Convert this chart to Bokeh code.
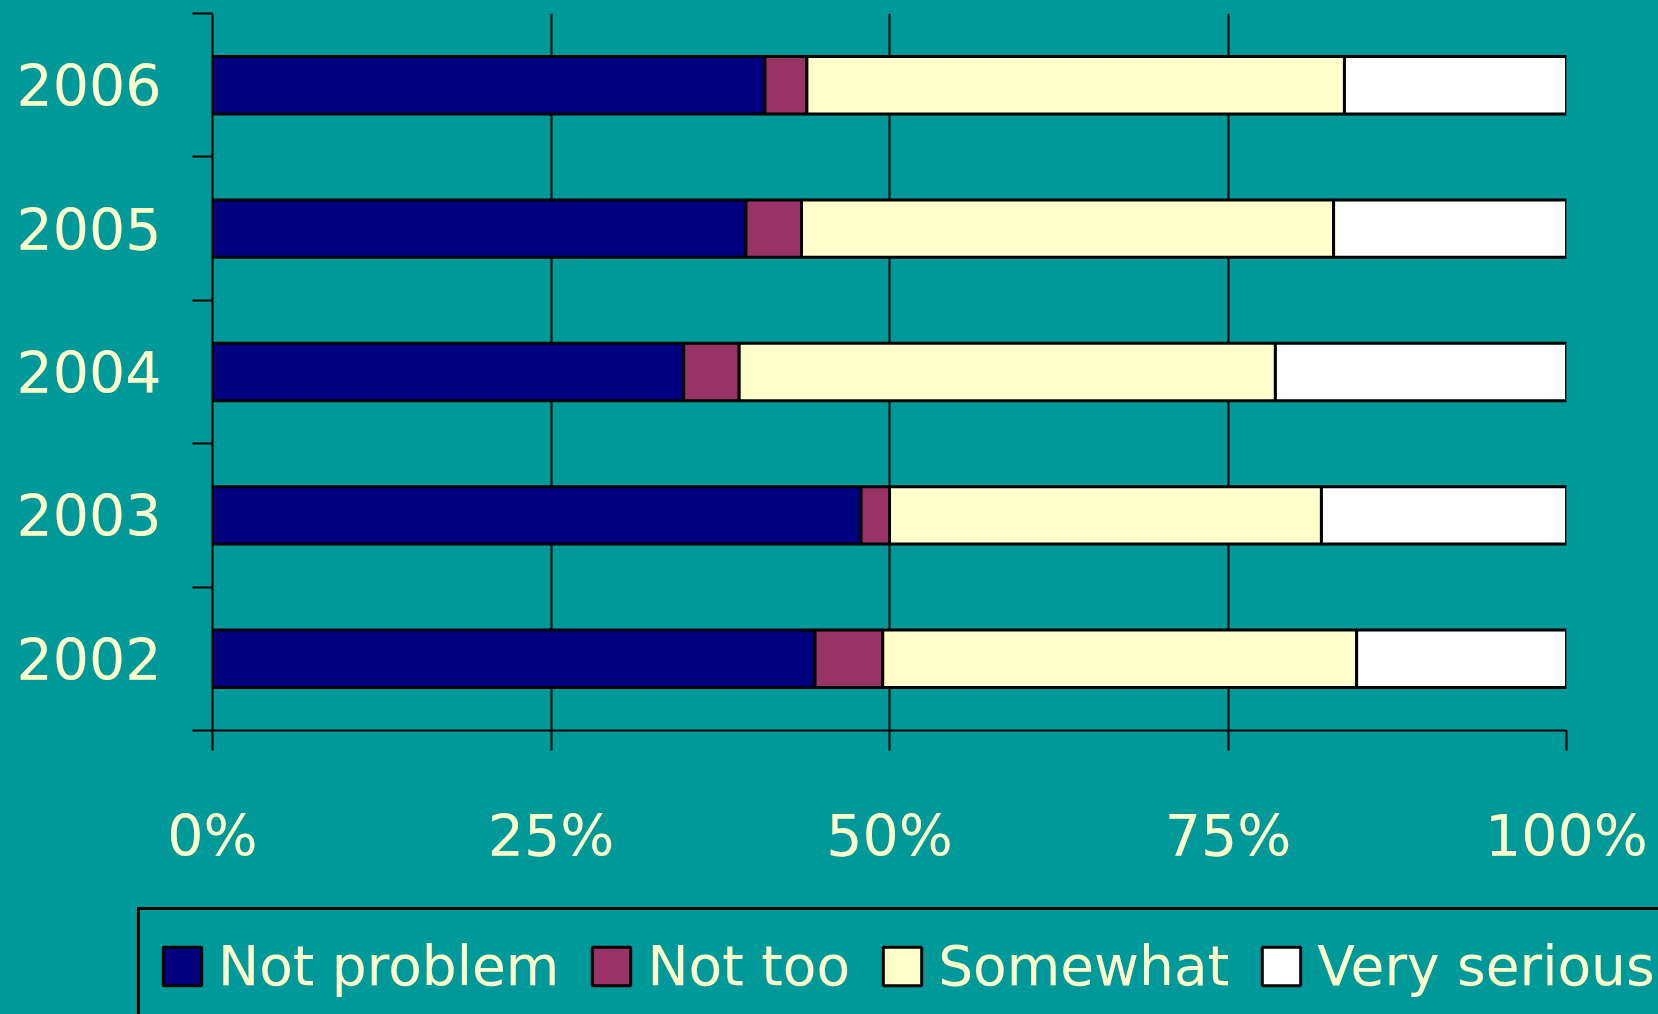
from bokeh.plotting import figure
from bokeh.models import (Range1d, FixedTicker, ColumnDataSource, Legend, LegendItem)
from bokeh.embed import file_html
from bokeh.resources import INLINE

years = ["2002", "2003", "2004", "2005", "2006"]
not_problem = [44.5, 47.9, 34.8, 39.4, 40.8]
not_too = [5.0, 2.1, 4.1, 4.1, 3.1]
somewhat = [35.0, 31.9, 39.6, 39.3, 39.7]
very_serious = [15.5, 18.1, 21.5, 17.2, 16.4]
series_names = ["Not problem", "Not too", "Somewhat", "Very serious"]
series_colors = ["#000080", "#993366", "#FFFFCC", "#FFFFFF"]
x_ticks = [0, 25, 50, 75, 100]
x_labels = ["0%", "25%", "50%", "75%", "100%"]

BG = "#009999"
TXT = "#FFFFCC"
FONT = "DejaVu Sans"

ypos = [i + 0.5 for i in range(len(years))]
keys = ["np", "nt", "sw", "vs"]
source = ColumnDataSource(dict(y=ypos, np=not_problem, nt=not_too,
                               sw=somewhat, vs=very_serious))

# ---------------- main chart ----------------
p = figure(width=1658, height=900, output_backend="svg", toolbar_location=None,
           x_range=Range1d(0, 100), y_range=Range1d(0, len(years)))
p.min_border_left = 212
p.min_border_right = 92
p.min_border_top = 13
p.min_border_bottom = 170
p.background_fill_color = BG
p.border_fill_color = BG
p.outline_line_color = None

renderers = p.hbar_stack(keys, y="y", height=0.4, source=source,
                         color=series_colors, line_color="black", line_width=3)

xt = FixedTicker(ticks=x_ticks)
p.xaxis.ticker = xt
p.xaxis.major_label_overrides = {t: l for t, l in zip(x_ticks, x_labels)}
p.xaxis.major_tick_out = 20
p.xaxis.major_tick_in = 0
p.xaxis.minor_tick_out = 0
p.xaxis.minor_tick_in = 0
p.xaxis.major_tick_line_width = 2
p.xaxis.major_tick_line_color = "black"
p.xaxis.axis_line_width = 2
p.xaxis.axis_line_color = "black"
p.xaxis.major_label_text_font = FONT
p.xaxis.major_label_text_font_size = "57px"
p.xaxis.major_label_text_color = TXT
p.xaxis.major_label_standoff = 52

yt = FixedTicker(ticks=ypos, minor_ticks=list(range(len(years) + 1)))
p.yaxis.ticker = yt
p.yaxis.major_label_overrides = {y: l for y, l in zip(ypos, years)}
p.yaxis.major_tick_out = 0
p.yaxis.major_tick_in = 0
p.yaxis.minor_tick_out = 20
p.yaxis.minor_tick_in = 0
p.yaxis.minor_tick_line_width = 2
p.yaxis.minor_tick_line_color = "black"
p.yaxis.axis_line_width = 2
p.yaxis.axis_line_color = "black"
p.yaxis.major_label_text_font = FONT
p.yaxis.major_label_text_font_size = "57px"
p.yaxis.major_label_text_color = TXT
p.yaxis.major_label_standoff = 31

p.xgrid.ticker = xt
p.xgrid.grid_line_color = "black"
p.xgrid.grid_line_width = 2
p.ygrid.visible = False

# ---------------- legend strip ----------------
pl = figure(width=1658, height=114, output_backend="svg", toolbar_location=None,
            x_range=Range1d(0, 100), y_range=Range1d(0, len(years)))
pl.min_border = 0
pl.min_border_left = 0
pl.min_border_right = 0
pl.min_border_top = 0
pl.min_border_bottom = 0
pl.axis.visible = False
pl.grid.visible = False
pl.background_fill_color = BG
pl.border_fill_color = BG
pl.outline_line_color = None

swatches = pl.hbar_stack(keys, y="y", height=0.4, source=source,
                         color=series_colors, line_color="black", line_width=3,
                         visible=False)

legend = Legend(items=[LegendItem(label=n, renderers=[r]) for n, r in zip(series_names, swatches)],
                orientation="horizontal", location=(137, -11))
legend.label_text_font = FONT
legend.label_text_font_size = "55px"
legend.label_text_color = TXT
legend.label_standoff = 12
legend.label_height = 76
legend.glyph_width = 48
legend.glyph_height = 48
legend.spacing = 28
legend.padding = 18
legend.margin = 0
legend.border_line_color = "black"
legend.border_line_alpha = 1.0
legend.border_line_width = 3
legend.background_fill_color = BG
legend.background_fill_alpha = 1.0
legend.inactive_fill_alpha = 0.0
pl.add_layout(legend)

html = file_html([p, pl], INLINE)
html = html.replace("<head>", "<head><style>html,body{background:#009999;}</style>", 1)
open("out.html", "w").write(html)
